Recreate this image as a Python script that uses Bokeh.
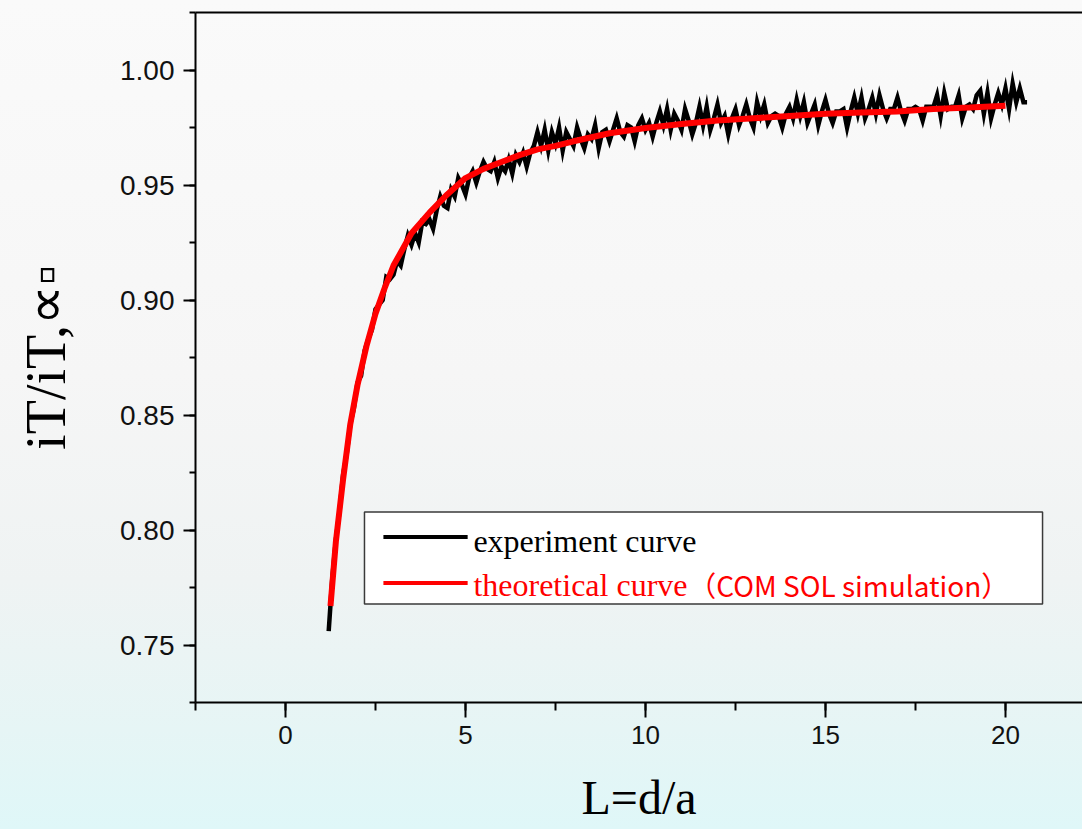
from bokeh.plotting import figure
from bokeh.models import (Range1d, LinearAxis, FixedTicker, SingleIntervalTicker,
                          Label, BoxAnnotation, PrintfTickFormatter)
from bokeh.embed import file_html
from bokeh.resources import INLINE

# ---------------- data ----------------
theory_L = [1.25, 1.4, 1.6, 1.8, 2.0, 2.25, 2.5, 2.75, 3.0, 3.5, 4.0, 4.5, 5.0, 5.5,
            6.0, 6.5, 7.0, 7.5, 8.0, 9.0, 10.0, 11.0, 12.0, 13.0, 14.0, 15.0, 16.0,
            17.0, 18.0, 19.0, 20.0]
theory_v = [0.767, 0.795, 0.822, 0.846, 0.863, 0.880, 0.894, 0.905, 0.915, 0.929, 0.938,
            0.946, 0.953, 0.957, 0.960, 0.963, 0.9655, 0.967, 0.969, 0.9725, 0.9748,
            0.9765, 0.978, 0.979, 0.980, 0.981, 0.9815, 0.982, 0.983, 0.9837, 0.9845]

exp_L = [1.2, 1.3, 1.4, 1.5, 1.6, 1.7, 1.8, 1.9, 2.0, 2.1,
         2.2, 2.3, 2.4, 2.5, 2.6, 2.7, 2.8, 2.9, 3.0, 3.1,
         3.2, 3.3, 3.4, 3.5, 3.6, 3.7, 3.8, 3.9, 4.0, 4.1,
         4.2, 4.3, 4.4, 4.5, 4.6, 4.7, 4.8, 4.9, 5.0, 5.1,
         5.2, 5.3, 5.4, 5.5, 5.6, 5.7, 5.8, 5.9, 6.0, 6.1,
         6.2, 6.3, 6.4, 6.5, 6.6, 6.7, 6.8, 6.9, 7.0, 7.1,
         7.2, 7.3, 7.4, 7.5, 7.6, 7.7, 7.8, 7.9, 8.0, 8.1,
         8.2, 8.3, 8.4, 8.5, 8.6, 8.7, 8.8, 8.9, 9.0, 9.1,
         9.2, 9.3, 9.4, 9.5, 9.6, 9.7, 9.8, 9.9, 10.0, 10.1,
         10.2, 10.3, 10.4, 10.5, 10.6, 10.7, 10.8, 10.9, 11.0, 11.1,
         11.2, 11.3, 11.4, 11.5, 11.6, 11.7, 11.8, 11.9, 12.0, 12.1,
         12.2, 12.3, 12.4, 12.5, 12.6, 12.7, 12.8, 12.9, 13.0, 13.1,
         13.2, 13.3, 13.4, 13.5, 13.6, 13.7, 13.8, 13.9, 14.0, 14.1,
         14.2, 14.3, 14.4, 14.5, 14.6, 14.7, 14.8, 14.9, 15.0, 15.1,
         15.2, 15.3, 15.4, 15.5, 15.6, 15.7, 15.8, 15.9, 16.0, 16.1,
         16.2, 16.3, 16.4, 16.5, 16.6, 16.7, 16.8, 16.9, 17.0, 17.1,
         17.2, 17.3, 17.4, 17.5, 17.6, 17.7, 17.8, 17.9, 18.0, 18.1,
         18.2, 18.3, 18.4, 18.5, 18.6, 18.7, 18.8, 18.9, 19.0, 19.1,
         19.2, 19.3, 19.4, 19.5, 19.6, 19.7, 19.8, 19.9, 20.0, 20.1,
         20.2, 20.3, 20.4, 20.5, 20.6]
exp_v = [0.756, 0.779, 0.796, 0.808, 0.824, 0.833, 0.846, 0.853, 0.864, 0.867,
         0.878, 0.883, 0.887, 0.896, 0.898, 0.900, 0.910, 0.909, 0.911, 0.917,
         0.915, 0.922, 0.928, 0.924, 0.929, 0.925, 0.934, 0.933, 0.935, 0.931,
         0.939, 0.945, 0.941, 0.940, 0.948, 0.945, 0.953, 0.950, 0.946, 0.953,
         0.956, 0.951, 0.956, 0.960, 0.957, 0.956, 0.960, 0.953, 0.958, 0.956,
         0.961, 0.955, 0.963, 0.960, 0.964, 0.958, 0.964, 0.967, 0.973, 0.967,
         0.974, 0.965, 0.973, 0.968, 0.975, 0.965, 0.973, 0.970, 0.967, 0.975,
         0.970, 0.966, 0.972, 0.970, 0.976, 0.966, 0.973, 0.974, 0.969, 0.974,
         0.979, 0.973, 0.971, 0.976, 0.975, 0.969, 0.976, 0.979, 0.974, 0.977,
         0.971, 0.977, 0.982, 0.976, 0.983, 0.974, 0.981, 0.978, 0.974, 0.983,
         0.978, 0.972, 0.977, 0.984, 0.976, 0.984, 0.974, 0.979, 0.985, 0.977,
         0.980, 0.972, 0.979, 0.983, 0.976, 0.980, 0.985, 0.979, 0.975, 0.986,
         0.980, 0.985, 0.977, 0.980, 0.981, 0.980, 0.975, 0.981, 0.984, 0.979,
         0.987, 0.980, 0.986, 0.977, 0.981, 0.985, 0.976, 0.982, 0.987, 0.981,
         0.977, 0.982, 0.982, 0.983, 0.975, 0.982, 0.988, 0.981, 0.988, 0.979,
         0.983, 0.988, 0.981, 0.989, 0.983, 0.979, 0.983, 0.983, 0.988, 0.982,
         0.978, 0.983, 0.983, 0.984, 0.983, 0.978, 0.984, 0.984, 0.984, 0.989,
         0.980, 0.990, 0.983, 0.984, 0.984, 0.989, 0.979, 0.984, 0.985, 0.983,
         0.989, 0.991, 0.981, 0.990, 0.979, 0.985, 0.990, 0.985, 0.992, 0.983,
         0.994, 0.986, 0.992, 0.986, 0.986]

x_ticks_interval = 5
y_ticks_interval = 0.05
legend_labels = ["experiment curve", "theoretical curve", "（COM SOL simulation）"]
x_title = "L=d/a"
y_title = "iT/iT,∝▫"

# ---------------- figure ----------------
SERIF = "Liberation Serif"
SANS = "Liberation Sans"

p = figure(width=1082, height=829, output_backend="svg", toolbar_location=None,
           x_range=Range1d(-2.5, 22.14), y_range=Range1d(0.725, 1.025),
           min_border_left=195, min_border_right=0, min_border_top=12,
           min_border_bottom=127,
           background_fill_alpha=0, border_fill_alpha=0, outline_line_color=None,
           styles={"background": "linear-gradient(to bottom, #fafafa 0%, #f6f6f6 45%, "
                                 "#eff3f3 70%, #e6f5f5 88%, #dff7f8 100%)"})
p.grid.visible = False

# x axis
xa = p.xaxis[0]
xa.ticker = SingleIntervalTicker(interval=x_ticks_interval, num_minor_ticks=2)
xa.axis_line_width = 2
xa.axis_line_color = "black"
xa.major_tick_out = 15
xa.major_tick_in = 0
xa.minor_tick_out = 8
xa.minor_tick_in = 0
xa.major_tick_line_width = 2
xa.minor_tick_line_width = 2
xa.major_label_standoff = 8
xa.major_label_text_font = SANS
xa.major_label_text_font_size = "26px"
xa.major_label_text_color = "#111111"
xa.axis_label = x_title
xa.axis_label_text_font = SERIF
xa.axis_label_text_font_style = "normal"
xa.axis_label_text_font_size = "48px"
xa.axis_label_text_color = "black"
xa.axis_label_standoff = 24

# y axis
ya = p.yaxis[0]
ya.ticker = SingleIntervalTicker(interval=y_ticks_interval, num_minor_ticks=2)
ya.formatter = PrintfTickFormatter(format="%.2f")
ya.axis_line_width = 2
ya.axis_line_color = "black"
ya.major_tick_out = 12
ya.major_tick_in = 0
ya.minor_tick_out = 6
ya.minor_tick_in = 0
ya.major_tick_line_width = 2
ya.minor_tick_line_width = 2
ya.major_label_standoff = 9
ya.major_label_text_font = SANS
ya.major_label_text_font_size = "28px"
ya.major_label_text_color = "#111111"
ya.axis_label = y_title
ya.axis_label_text_font = SERIF
ya.axis_label_text_font_style = "normal"
ya.axis_label_text_font_size = "56px"
ya.axis_label_text_color = "black"
ya.axis_label_standoff = 40

# top frame line
top = LinearAxis(ticker=FixedTicker(ticks=[]), major_label_text_font_size="0px",
                 axis_line_width=2, axis_line_color="black",
                 major_tick_out=0, major_tick_in=0, minor_tick_out=0, minor_tick_in=0)
p.add_layout(top, "above")

# curves
p.line(exp_L, exp_v, line_color="black", line_width=4.5, line_join="miter")
p.line(theory_L, theory_v, line_color="#ff0000", line_width=6)

# legend (manual, because the second entry is red and mixes fonts)
p.add_layout(BoxAnnotation(left=2.194, right=21.03, bottom=0.7678, top=0.8078,
                           fill_color="white", fill_alpha=1, line_color="#3a3a3a",
                           line_alpha=1, line_width=1.5, level="underlay"))
p.line([2.72, 5.06], [0.797, 0.797], line_color="black", line_width=4, line_cap="butt")
p.line([2.72, 5.06], [0.777, 0.777], line_color="#ff0000", line_width=4, line_cap="butt")
p.add_layout(Label(x=5.22, y=0.7952, text=legend_labels[0], text_baseline="alphabetic",
                   text_font=SERIF, text_font_size="32px", text_color="black"))
p.add_layout(Label(x=5.22, y=0.7761, text=legend_labels[1], text_baseline="alphabetic",
                   text_font=SERIF, text_font_size="32px", text_color="#ff0000"))
p.add_layout(Label(x=11.19, y=0.7761, text=legend_labels[2], text_baseline="alphabetic",
                   text_font="Noto Sans CJK JP", text_font_size="28px",
                   text_color="#ff0000"))

open("out.html", "w").write(file_html(p, INLINE))
